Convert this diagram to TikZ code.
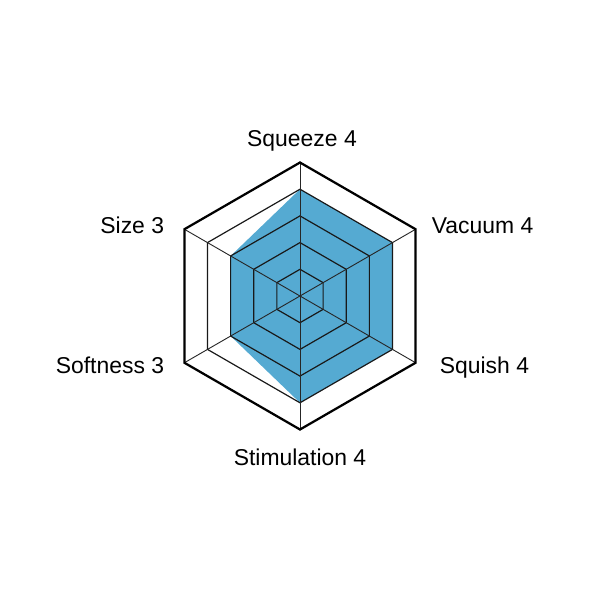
\documentclass[tikz,border=0pt]{standalone}
\usepackage{fontspec}
\setmainfont{Liberation Sans}
\usetikzlibrary{positioning}
\definecolor{radarblue}{RGB}{85,170,210}

\begin{document}
\begin{tikzpicture}[grid line/.style={draw=black!90,line width=0.85pt},
	spoke/.style={draw=black!85,line width=0.65pt},
	outer line/.style={draw=black,line width=1.6pt,line join=miter},
	axis label/.style={font=\fontsize{16.3}{19}\selectfont,inner sep=0pt}]
	\useasboundingbox (-7.5,-7.6) rectangle (7.5,7.4);
	\coordinate (c) at (0,0);
	% outer corners and data points, clockwise from the top
	\foreach \i/\v in {1/4,2/4,3/4,4/4,5/3,6/3}{
		\coordinate (v\i) at (150-60*\i:3.3375);
		\coordinate (d\i) at (150-60*\i:\v*0.6675);
	}
	\fill[radarblue] (d1) -- (d2) -- (d3) -- (d4) -- (d5) -- (d6) -- cycle;
	\foreach \k in {1,...,4}
		\draw[grid line] (90:\k*0.6675) -- (30:\k*0.6675) -- (-30:\k*0.6675) -- (-90:\k*0.6675) -- (-150:\k*0.6675) -- (150:\k*0.6675) -- cycle;
	\foreach \i in {1,...,6}
		\draw[spoke] (c) -- (v\i);
	\draw[outer line] (v1) -- (v2) -- (v3) -- (v4) -- (v5) -- (v6) -- cycle;
	% labels
	\node[axis label,anchor=base] (squeeze) at ([shift={(0.05,0.41)}]v1) {Squeeze 4};
	\node[axis label,anchor=base west] (vacuum) at ([shift={(0.4,-0.1)}]v2) {Vacuum 4};
	\node[axis label,anchor=base west] (squish) at ([shift={(0.6,-0.26)}]v3) {Squish 4};
	\node[axis label,anchor=base] (stimulation) at ([yshift=-0.89cm]v4) {Stimulation 4};
	\node[axis label,anchor=base east] (softness) at ([shift={(-0.5,-0.28)}]v5) {Softness 3};
	\node[axis label,anchor=base east] (size) at ([shift={(-0.5,-0.1)}]v6) {Size 3};
\end{tikzpicture}
\end{document}
